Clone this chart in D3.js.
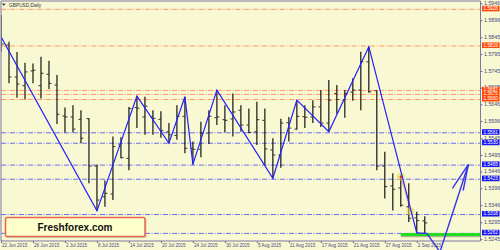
<!DOCTYPE html>
<html>
<head>
<meta charset="utf-8">
<script src="https://cdn.jsdelivr.net/npm/d3@7"></script>
<style>
  html, body { margin: 0; padding: 0; background: #f8f8d2; }
  svg { display: block; }
</style>
</head>
<body>
<div id="chart"></div>
<script>
// GBPUSD daily bars, index 0 = 22 Jun 2015
const opens  = [1.5890,1.5822,1.5727,1.5701,1.5745,1.5701,1.5735,1.5703,1.5611,1.5608,1.5601,1.5603,1.5462,1.5371,1.5379,1.5525,1.5485,1.5636,1.5608,1.5608,1.5601,1.5564,1.5553,1.5610,1.5515,1.5512,1.5560,1.5606,1.5600,1.5602,1.5628,1.5584,1.5564,1.5598,1.5510,1.5495,1.5591,1.5572,1.5609,1.5608,1.5638,1.5590,1.5678,1.5658,1.5682,1.5688,1.5772,1.5686,1.5462,1.5403,1.5397,1.5341,1.5308,1.5299]
const highs  = [1.5911,1.5832,1.5801,1.5769,1.5767,1.5787,1.5775,1.5733,1.5636,1.5643,1.5628,1.5605,1.5467,1.5419,1.5550,1.5548,1.5638,1.5670,1.5668,1.5628,1.5625,1.5590,1.5643,1.5668,1.5535,1.5594,1.5628,1.5688,1.5643,1.5678,1.5643,1.5633,1.5653,1.5633,1.5545,1.5603,1.5608,1.5658,1.5643,1.5658,1.5688,1.5718,1.5703,1.5688,1.5723,1.5802,1.5817,1.5688,1.5505,1.5441,1.5436,1.5411,1.5326,1.5313]
const lows   = [1.5801,1.5708,1.5665,1.5660,1.5708,1.5663,1.5691,1.5587,1.5562,1.5562,1.5530,1.5411,1.5329,1.5341,1.5361,1.5485,1.5450,1.5575,1.5555,1.5555,1.5546,1.5530,1.5540,1.5500,1.5467,1.5488,1.5528,1.5584,1.5562,1.5550,1.5564,1.5560,1.5525,1.5465,1.5426,1.5457,1.5535,1.5570,1.5575,1.5590,1.5578,1.5564,1.5618,1.5606,1.5656,1.5628,1.5680,1.5450,1.5366,1.5330,1.5341,1.5296,1.5263,1.5263]
const closes = [1.5825,1.5727,1.5706,1.5742,1.5747,1.5738,1.5708,1.5616,1.5608,1.5572,1.5545,1.5462,1.5361,1.5381,1.5520,1.5487,1.5633,1.5634,1.5640,1.5604,1.5567,1.5555,1.5610,1.5515,1.5512,1.5560,1.5610,1.5608,1.5598,1.5623,1.5584,1.5562,1.5600,1.5513,1.5495,1.5590,1.5575,1.5610,1.5607,1.5638,1.5590,1.5658,1.5660,1.5678,1.5688,1.5772,1.5683,1.5462,1.5401,1.5393,1.5346,1.5307,1.5300,1.5293]

const dateIdx = [0,4,8,12,16,20,24,28,32,36,40,44,48,52]
const dateLabels = ['22 Jun 2015','26 Jun 2015','2 Jul 2015','8 Jul 2015','14 Jul 2015','20 Jul 2015','24 Jul 2015','30 Jul 2015','5 Aug 2015','11 Aug 2015','17 Aug 2015','21 Aug 2015','27 Aug 2015','2 Sep 2015']

const priceTicks = [1.5946,1.5896,1.5845,1.5795,1.5745,1.5695,1.5646,1.5596,1.5545,1.5495,1.5446,1.5396,1.5346,1.5295,1.5245]

const redLevels = [1.5928,1.5819,1.5687,1.5675,1.5660]
const blueLevels = [1.5561,1.5530,1.5465,1.5423,1.5318,1.5262]
const greenLevel = 1.5259
const greenFrom = 50

// zigzag turning points (bar index, price)
const zigIdx   = [-1,12,17,21,23,24,27,34,37,41,46,52]
const zigPrice = [1.5890,1.5329,1.5670,1.5530,1.5668,1.5467,1.5688,1.5426,1.5658,1.5564,1.5817,1.5263]

// hand drawn forecast
const fcIdx   = [52,53.25,54.9,58.45]
const fcPrice = [1.5263,1.5262,1.5207,1.5467]
const arrowIdx   = [56.45,58.45,57.8]
const arrowPrice = [1.5396,1.5467,1.5389]

// highlighted points
const markIdx   = [50,51.2]
const markPrice = [1.5430,1.5328]

const width = 500, height = 250
const plotRight = 480.5, plotTop = 1, plotBottom = 241

const x = d3.scaleLinear().domain([0, 52]).range([1, 416.8])
const y = d3.scaleLinear().domain([1.5245, 1.5946]).range([239.1, 3.3])

const svg = d3.select('#chart').append('svg')
  .attr('width', width)
  .attr('height', height)

svg.append('rect').attr('width', width).attr('height', height).attr('fill', '#f8f8d2')

svg.append('defs').append('clipPath').attr('id', 'plotClip')
  .append('rect').attr('x', 1).attr('y', plotTop).attr('width', plotRight - 1).attr('height', height)

const dash = '5,1.5,1,1.5'

// levels
svg.append('g').selectAll('line').data(redLevels).join('line')
  .attr('x1', 1).attr('x2', plotRight)
  .attr('y1', d => y(d)).attr('y2', d => y(d))
  .attr('stroke', '#ff9966').attr('stroke-width', 1).attr('stroke-dasharray', dash)

svg.append('g').selectAll('line').data(blueLevels).join('line')
  .attr('x1', 1).attr('x2', plotRight)
  .attr('y1', d => y(d)).attr('y2', d => y(d))
  .attr('stroke', '#6a6af2').attr('stroke-width', 1).attr('stroke-dasharray', dash)

// green support line
svg.append('line')
  .attr('x1', x(greenFrom)).attr('x2', plotRight)
  .attr('y1', y(greenLevel) + 2).attr('y2', y(greenLevel) + 2)
  .attr('stroke', '#b4b48c').attr('stroke-width', 1.5)
svg.append('line')
  .attr('x1', x(greenFrom)).attr('x2', plotRight)
  .attr('y1', y(greenLevel)).attr('y2', y(greenLevel))
  .attr('stroke', '#22dd22').attr('stroke-width', 3)

// bars
const plot = svg.append('g').attr('clip-path', 'url(#plotClip)')
const bars = plot.append('g')
  .selectAll('g')
  .data(d3.range(opens.length))
  .join('g')
bars.append('line')
  .attr('x1', i => x(i)).attr('x2', i => x(i))
  .attr('y1', i => y(highs[i])).attr('y2', i => y(lows[i]))
  .attr('stroke', '#000').attr('stroke-width', 1.1)
bars.append('line')
  .attr('x1', i => x(i) - 2.5).attr('x2', i => x(i))
  .attr('y1', i => y(opens[i])).attr('y2', i => y(opens[i]))
  .attr('stroke', '#333').attr('stroke-width', 1)
bars.append('line')
  .attr('x1', i => x(i)).attr('x2', i => x(i) + 2.5)
  .attr('y1', i => y(closes[i])).attr('y2', i => y(closes[i]))
  .attr('stroke', '#333').attr('stroke-width', 1)

// markers
plot.append('g').selectAll('circle').data(markIdx).join('circle')
  .attr('cx', (d, i) => x(d)).attr('cy', (d, i) => y(markPrice[i]))
  .attr('r', 4).attr('fill', '#e8dc50').attr('opacity', 0.6)
plot.append('line')
  .attr('x1', x(markIdx[0])).attr('y1', y(markPrice[0]))
  .attr('x2', x(markIdx[1])).attr('y2', y(markPrice[1]))
  .attr('stroke', '#ff4040').attr('stroke-width', 0.8).attr('stroke-dasharray', '1,1')
plot.append('circle')
  .attr('cx', x(markIdx[0])).attr('cy', y(markPrice[0]))
  .attr('r', 1.2).attr('fill', '#ff2020')

// zigzag
const line = d3.line().x(d => x(d[0])).y(d => y(d[1]))
plot.append('path')
  .datum(zigIdx.map((d, i) => [d, zigPrice[i]]))
  .attr('d', line)
  .attr('fill', 'none').attr('stroke', '#2020ff').attr('stroke-width', 1.2)

// frame
svg.append('path')
  .attr('d', `M1,${plotBottom}V${plotTop}H${plotRight}V${plotBottom}H1`)
  .attr('fill', 'none').attr('stroke', '#7a7aa6').attr('stroke-width', 1)

// forecast
svg.append('path')
  .datum(fcIdx.map((d, i) => [d, fcPrice[i]]))
  .attr('d', line)
  .attr('fill', 'none').attr('stroke', '#3434ee').attr('stroke-width', 1.4)
svg.append('path')
  .datum(arrowIdx.map((d, i) => [d, arrowPrice[i]]))
  .attr('d', line)
  .attr('fill', 'none').attr('stroke', '#3434ee').attr('stroke-width', 1.4)

// right price axis
const yAxis = svg.append('g')
  .attr('transform', `translate(${plotRight},0)`)
  .call(d3.axisRight(y).tickValues(priceTicks).tickSize(2).tickSizeOuter(0).tickPadding(1.5).tickFormat(d3.format('.4f')))
yAxis.select('.domain').remove()
yAxis.selectAll('line').attr('stroke', '#6c6c9c')
yAxis.selectAll('text')
  .attr('y', -0.6)
  .attr('fill', '#4a4a7c')
  .style('font', '5.3px "Liberation Sans", Arial, sans-serif')

// level labels
const levelTags = redLevels.map(d => ({ v: d, c: '#ff4a0a' }))
  .concat(blueLevels.map(d => ({ v: d, c: '#1818f0' })))
const tags = svg.append('g').selectAll('g').data(levelTags).join('g')
  .attr('transform', d => `translate(482,${y(d.v) - 0.8})`)
tags.append('rect')
  .attr('x', 0).attr('y', -2.8).attr('width', 17.5).attr('height', 5.6)
  .attr('fill', d => d.c)
tags.append('text')
  .attr('x', 8.75).attr('y', 1.6)
  .attr('text-anchor', 'middle')
  .attr('fill', '#fff')
  .style('font', '4.7px "Liberation Sans", Arial, sans-serif')
  .text(d => d.v.toFixed(4))

// bottom date axis
const xAxis = svg.append('g')
  .attr('transform', `translate(0,${plotBottom})`)
  .call(d3.axisBottom(x).tickValues(dateIdx).tickSize(2).tickSizeOuter(0).tickFormat((d, i) => dateLabels[i]))
xAxis.select('.domain').remove()
xAxis.selectAll('line').attr('stroke', '#6c6c9c')
xAxis.selectAll('text')
  .attr('y', 5.8).attr('dy', 0).attr('x', 0.5)
  .attr('text-anchor', 'start')
  .attr('fill', '#4a4a7c')
  .style('font', '4.6px "Liberation Sans", Arial, sans-serif')

// title
svg.append('path').attr('d', 'M2,3.5H5.5L3.75,6Z').attr('fill', '#333')
svg.append('text')
  .attr('x', 9).attr('y', 6.6)
  .attr('fill', '#333')
  .style('font', '4.8px "Liberation Sans", Arial, sans-serif')
  .text('GBPUSD,Daily')

// watermark box
svg.append('rect')
  .attr('x', 7).attr('y', 219).attr('width', 139.5).attr('height', 19)
  .attr('fill', '#9a9a80').attr('opacity', 0.45)
svg.append('rect')
  .attr('x', 5.5).attr('y', 217.5).attr('width', 139.5).attr('height', 19).attr('rx', 1.5)
  .attr('fill', '#ffffcc').attr('stroke', '#e8654f').attr('stroke-width', 1.5)
svg.append('text')
  .attr('x', 75).attr('y', 231)
  .attr('text-anchor', 'middle')
  .attr('fill', '#111')
  .style('font', 'bold 10px "Liberation Sans", Arial, sans-serif')
  .text('Freshforex.com')
</script>
</body>
</html>
